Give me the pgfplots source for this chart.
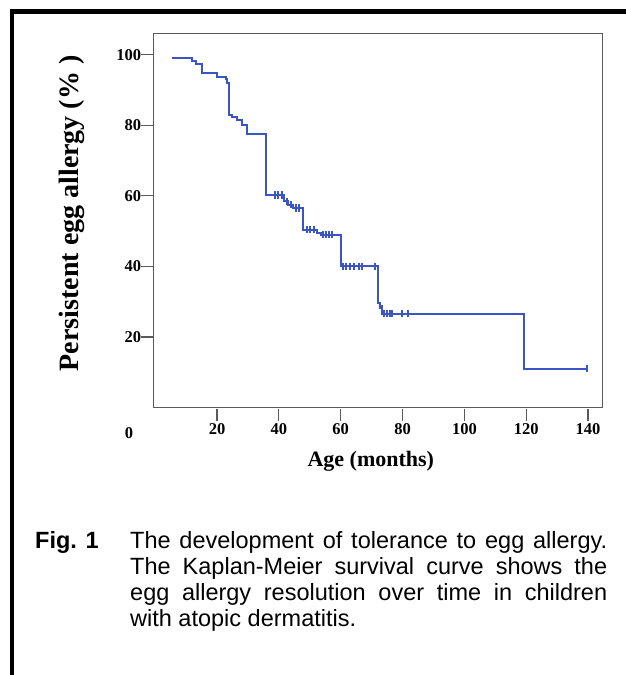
\documentclass[border=0pt]{standalone}
\usepackage{pgfplots}
\pgfplotsset{compat=1.18}
\usepackage{fontspec}
\setmainfont{Liberation Serif}
\newfontfamily\capfont{Liberation Sans}
\definecolor{kmblue}{RGB}{58,86,196}
\definecolor{axgray}{RGB}{90,90,90}
\begin{document}
\begin{tikzpicture}
\useasboundingbox (0,0) rectangle (626pt,-675pt);
% outer frame
\draw[line width=4.5pt, miter limit=10] (12pt,-680pt) -- (12pt,-11.7pt) -- (630pt,-11.7pt);
\begin{axis}[
  at={(153.3pt,-407.5pt)}, anchor=south west,
  scale only axis, width=449pt, height=374pt,
  xmin=-0.6, xmax=144.6, ymin=0, ymax=106,
  axis line style={axgray, line width=1.3pt},
  xtick={20,40,60,80,100,120,140},
  ytick={20,40,60,80,100},
  tick pos=left,
  tick align=outside,
  major tick length=12pt,
  xtick style={axgray, line width=1.3pt, yshift=-1pt},
  ytick style={axgray, line width=1.3pt},
  /pgf/number format/assume math mode=true,
  ticklabel style={font=\fontsize{16.5}{16.5}\selectfont\bfseries},
  xticklabel style={inner sep=2pt, yshift=-2pt},
  yticklabel style={inner sep=0pt},
  clip=false,
]
\addplot[const plot, kmblue, line width=2pt] coordinates {
(5.3,99.0) (12.0,98.2) (13.2,97.3) (15.0,94.7) (20.1,93.7) (22.9,93.0)
(23.3,91.9) (24.0,82.9) (24.7,82.2) (26.4,81.5) (28.0,80.1) (29.8,77.4)
(36.0,60.3) (41.8,58.4) (43.0,57.5) (44.7,56.5) (47.9,50.4) (52.2,49.6)
(53.5,49.0) (60.1,40.0) (72.0,29.6) (72.7,28.9) (73.5,26.6) (119.4,11.0)
(139.5,11.0)
};
\addplot[only marks, kmblue, mark=|, mark size=3.8pt, mark options={line width=2pt}] coordinates {
(38.7,60.3) (39.6,60.3) (40.9,60.3)
(42.5,58.4) (44.0,57.5) (45.5,56.5) (46.5,56.5)
(49.0,50.4) (50.1,50.4) (51.5,50.4)
(54.2,49.0) (55.2,49.0) (56.2,49.0) (57.2,49.0)
(60.8,40.0) (61.8,40.0) (63.0,40.0) (64.4,40.0) (66.0,40.0) (66.9,40.0) (71.0,40.0)
(72.7,28.9)
(74.1,26.6) (75.0,26.6) (75.8,26.6) (76.5,26.6) (79.8,26.6) (81.9,26.6)
(139.5,11.0)
};
\end{axis}
% stray zero label
\node[font=\fontsize{16.5}{16.5}\selectfont\bfseries] at (129pt,-433pt) {0};
% axis labels
\node[rotate=90, font=\fontsize{28}{28}\selectfont\bfseries] at (71.7pt,-213.3pt) {Persistent egg allergy (\% )};
\node[font=\fontsize{22}{22}\selectfont\bfseries] at (370.8pt,-461.7pt) {Age (months)};
% caption
\node[anchor=base west, inner sep=0pt, font=\capfont\fontsize{23.5}{26.3}\selectfont\bfseries] at (35pt,-548pt) {Fig. 1};
\node[anchor=base west, inner sep=0pt, font=\capfont\fontsize{23.5}{26.3}\selectfont] at (130pt,-548pt)
{\parbox[t]{477pt}{\fontsize{23.5}{26.3}\selectfont The development of tolerance to egg allergy.\linebreak The Kaplan-Meier survival curve shows the\linebreak egg allergy resolution over time in children\linebreak with atopic dermatitis.}};
\end{tikzpicture}
\end{document}
